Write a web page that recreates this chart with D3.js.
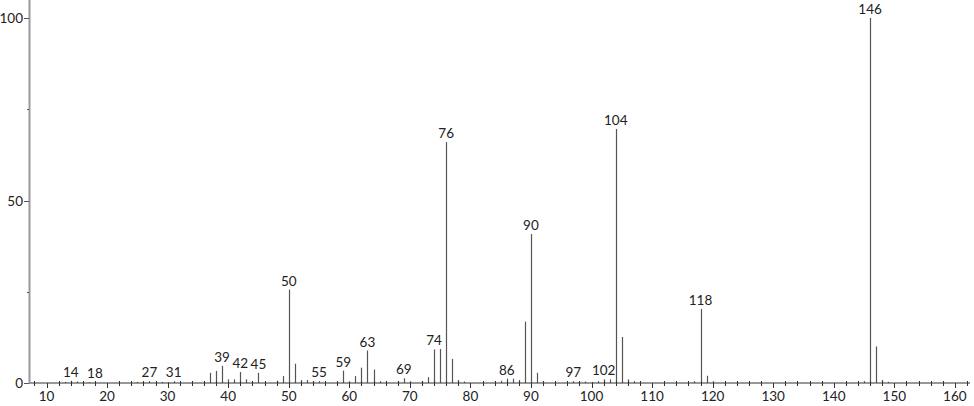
<!DOCTYPE html>
<html><head><meta charset="utf-8">
<script src="https://cdn.jsdelivr.net/npm/d3@7"></script>
<style>body{margin:0;background:#fff}svg{display:block}text{font-family:"Lato","DejaVu Sans",sans-serif}</style>
</head><body>
<svg id="c" width="974" height="406"></svg>
<script>
const mz = [13,14,15,16,17,18,25,26,27,28,29,30,31,36,37,38,39,40,41,42,43,44,45,48,49,50,51,52,53,54,55,56,58,59,60,61,62,63,64,65,66,68,69,70,72,73,74,75,76,77,78,79,84,85,86,87,88,89,90,91,92,96,97,98,99,100,101,102,103,104,105,106,107,117,118,119,120,145,146,147,148,149];
const intensity = [0.3,0.6,0.4,0.3,0.2,0.3,0.3,0.3,0.5,0.4,0.3,0.2,0.5,0.5,2.8,3.3,4.7,1.0,1.0,3.0,1.0,0.5,2.8,0.6,1.9,25.6,5.3,0.8,0.8,0.5,0.5,0.3,0.3,3.4,0.5,1.9,4.2,8.9,3.7,0.5,0.5,0.5,1.3,0.5,0.5,1.6,9.2,9.3,66,6.6,0.8,0.4,0.3,0.6,1.2,1.2,0.8,16.8,40.8,2.8,0.5,0.3,0.5,0.5,0.4,0.3,0.5,1.0,1.0,69.6,12.6,1.0,0.5,0.5,20.3,2.0,0.5,0.5,100,10,0.8,0.3];
const labelled = [14,18,27,31,39,42,45,50,55,59,63,69,74,76,86,90,97,102,104,118,146];
const xTicks = [10,20,30,40,50,60,70,80,90,100,110,120,130,140,150,160];
const yTicks = [0,50,100];

const svg = d3.select("#c");
const x = d3.scaleLinear().domain([7.11,162.5]).range([29,970]);
const y = d3.scaleLinear().domain([0,100]).range([383,18]);

// bars
svg.append("g").selectAll("line").data(mz).join("line")
  .attr("x1",(d)=>Math.round(x(d))+0.5).attr("x2",(d)=>Math.round(x(d))+0.5)
  .attr("y1",y(0)).attr("y2",(d,i)=>y(intensity[i]))
  .attr("stroke","#555").attr("stroke-width",1.2);

// peak labels
const lab = svg.append("g").attr("font-size",13.5).attr("fill","#222").attr("text-anchor","middle");
labelled.forEach(m=>{
  const i = mz.indexOf(m);
  lab.append("text").attr("x",x(m)).attr("y",y(intensity[i])-4).text(m);
});

// x axis
const xAxis = svg.append("g").attr("transform","translate(0,383)");
xAxis.append("line").attr("x1",29).attr("x2",970).attr("stroke","#333");
const minor = d3.range(8,163,2).filter(v=>v%10!==0);
xAxis.selectAll("line.mi").data(minor).join("line").attr("class","mi")
  .attr("x1",d=>Math.round(x(d))+0.5).attr("x2",d=>Math.round(x(d))+0.5)
  .attr("y1",-2).attr("y2",3).attr("stroke","#333");
xAxis.selectAll("line.ma").data(xTicks).join("line").attr("class","ma")
  .attr("x1",d=>Math.round(x(d))+0.5).attr("x2",d=>Math.round(x(d))+0.5)
  .attr("y1",0).attr("y2",5).attr("stroke","#333");
xAxis.selectAll("text").data(xTicks).join("text")
  .attr("x",d=>x(d)).attr("y",18).attr("text-anchor","middle")
  .attr("font-size",13.5).attr("fill","#222").text(d=>d);

// y axis
const yAxis = svg.append("g");
yAxis.append("line").attr("x1",29.5).attr("x2",29.5).attr("y1",0).attr("y2",383).attr("stroke","#999").attr("stroke-width",2);
yAxis.selectAll("line.ma").data(yTicks).join("line").attr("class","ma")
  .attr("x1",24).attr("x2",29).attr("y1",d=>Math.round(y(d))+0.5).attr("y2",d=>Math.round(y(d))+0.5).attr("stroke","#555");
yAxis.selectAll("line.mi").data([25,75]).join("line").attr("class","mi")
  .attr("x1",27).attr("x2",29).attr("y1",d=>Math.round(y(d))+0.5).attr("y2",d=>Math.round(y(d))+0.5).attr("stroke","#555");
yAxis.selectAll("text").data(yTicks).join("text")
  .attr("x",23).attr("y",d=>y(d)+5).attr("text-anchor","end")
  .attr("font-size",13.5).attr("fill","#222").text(d=>d);
</script>
</body></html>
